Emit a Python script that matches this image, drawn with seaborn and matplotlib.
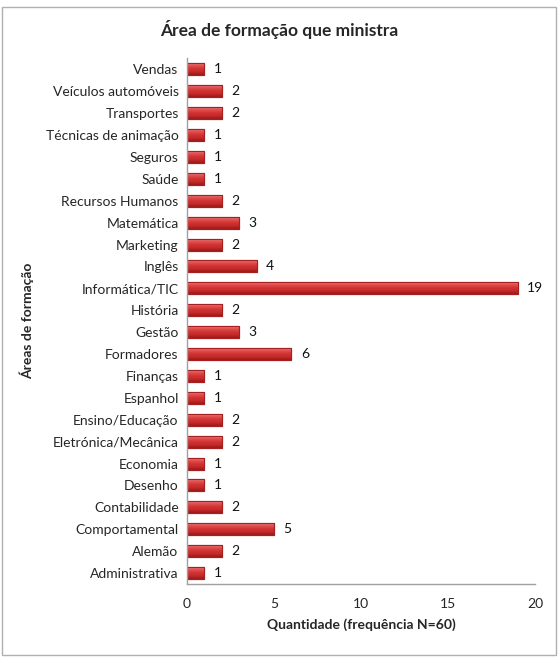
import matplotlib
matplotlib.use("Agg")
import matplotlib.pyplot as plt
import seaborn as sns
import pandas as pd
import numpy as np
from matplotlib.patches import Rectangle
from matplotlib.colors import LinearSegmentedColormap

categories = ["Vendas", "Veículos automóveis", "Transportes", "Técnicas de animação",
              "Seguros", "Saúde", "Recursos Humanos", "Matemática", "Marketing",
              "Inglês", "Informática/TIC", "História", "Gestão", "Formadores",
              "Finanças", "Espanhol", "Ensino/Educação", "Eletrónica/Mecânica",
              "Economia", "Desenho", "Contabilidade", "Comportamental", "Alemão",
              "Administrativa"]
values = [1, 2, 2, 1, 1, 1, 2, 3, 2, 4, 19, 2, 3, 6, 1, 1, 2, 2, 1, 1, 2, 5, 2, 1]
xticks = [0, 5, 10, 15, 20]

df = pd.DataFrame({"area": categories, "qtd": values})

sns.set_style("white")
plt.rcParams['font.family'] = ['Lato', 'DejaVu Sans']

fig = plt.figure(figsize=(5.59, 6.64), dpi=100)
ax = fig.add_axes([0.3345, 0.1205, 0.6225, 0.7916])

sns.barplot(data=df, y="area", x="qtd", orient="h", order=categories,
            color="#d13b3b", edgecolor="#9a1f1f", linewidth=0.8, width=0.55,
            saturation=1, ax=ax)

# glossy vertical gradient inside each bar (clipped to the bar patches)
cmap = LinearSegmentedColormap.from_list(
    "gloss", ["#f08a8a", "#e25555", "#d43434", "#c42a2a", "#9c1717"])
grad = np.linspace(0, 1, 64).reshape(-1, 1)
for p in list(ax.patches):
    x0, y0 = p.get_x(), p.get_y()
    w, h = p.get_width(), p.get_height()
    im = ax.imshow(grad, cmap=cmap, aspect="auto", interpolation="bicubic",
                   extent=(x0, x0 + w, y0 + h, y0), origin="upper", zorder=p.get_zorder() + 0.1)
    im.set_clip_path(p)
    border = Rectangle((x0, y0), w, h, fill=False, edgecolor="#a52020",
                       linewidth=0.8, zorder=p.get_zorder() + 0.2)
    ax.add_patch(border)

for i, v in enumerate(values):
    ax.text(v + 0.55, i, str(v), va="center", ha="left", fontsize=10, color="#111111")

ax.set_xlim(0, 20)
ax.set_ylim(len(categories) - 0.5, -0.5)
ax.set_aspect("auto")
ax.set_xticks(xticks)
ax.set_xticklabels([str(t) for t in xticks], fontsize=10)
ax.tick_params(axis="y", labelsize=10, length=0, pad=6)
ax.tick_params(axis="x", length=0, pad=10)

for s in ["top", "right"]:
    ax.spines[s].set_visible(False)
for s in ["left", "bottom"]:
    ax.spines[s].set_color("#a0a0a0")
    ax.spines[s].set_linewidth(1)

ax.set_xlabel("Quantidade (frequência N=60)", fontsize=10, fontweight="bold", labelpad=6)
ax.set_ylabel("Áreas de formação", fontsize=10, fontweight="bold")
ax.yaxis.set_label_coords(-0.44, 0.5)

fig.text(0.5, 0.955, "Área de formação que ministra", ha="center", va="center",
         fontsize=12.5, fontweight="bold")

fig.patches.append(Rectangle((0.004, 0.014), 0.99, 0.975, transform=fig.transFigure,
                             fill=False, edgecolor="#b0b0b0", linewidth=1))

fig.savefig("out.png", dpi=100)
